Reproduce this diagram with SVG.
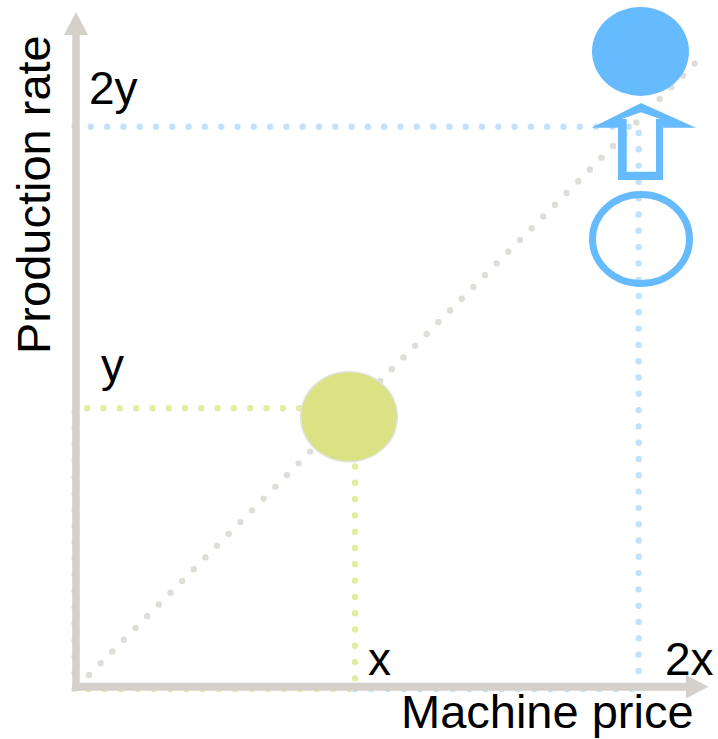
<svg xmlns="http://www.w3.org/2000/svg" width="718" height="739" viewBox="0 0 718 739">
<style>
.dot{fill:none;stroke-linecap:round;stroke-width:6.4;stroke-dasharray:0 16.3}
.g{stroke:#e4eba3}
.b{stroke:#c2e2fb}
.d{stroke:#e0ddd8;stroke-dasharray:0 16.55}
.axis{stroke:#d5d0ca;fill:none}
.head{fill:#d5d0ca}
.lbl{font-family:"Liberation Sans",Arial,sans-serif;font-size:46px;fill:#000}
.ttl{font-family:"Liberation Sans",Arial,sans-serif;font-size:47px;fill:#000}
</style>
<g id="connectors">
<path class="dot d" d="M77.3,686.7 L696,62.3"/>
<path class="dot g" d="M74.5,689 L74.5,408.3 L355,408.3 L355,689 Z"/>
<path class="dot b" d="M74.5,126.7 L638.7,126.7 L638.7,689"/>
<path class="dot b" d="M355,689 L638.7,689"/>
<line class="axis" x1="76" y1="30" x2="76" y2="691" stroke-width="7.5"/>
<polygon class="head" points="64,35 88,35 76,12"/>
<line class="axis" x1="72.3" y1="686.7" x2="690" y2="686.7" stroke-width="8"/>
<polygon class="head" points="686,675 686,698.5 708.5,686.7"/>
</g>
<g id="point-x">
<ellipse cx="349" cy="416.7" rx="48.3" ry="45" fill="#dae283" stroke="#e2e2df" stroke-width="1.6"/>
</g>
<g id="point-2x-old">
<ellipse cx="641" cy="239" rx="48.5" ry="44.5" fill="none" stroke="#66bbff" stroke-width="7"/>
</g>
<g id="up-arrow">
<path fill="#66bbff" fill-rule="evenodd" d="M641,103 L696,127.7 L663,127.7 L663,180 L618,180 L618,127.7 L591.7,127.7 Z M641,112.3 L660,119 L656,119 L656,171.7 L626.7,171.7 L626.7,119 L621.7,119 Z"/>
</g>
<g id="point-2x-new">
<ellipse cx="640.5" cy="51.5" rx="48.5" ry="44.5" fill="#66bbff"/>
</g>
<g id="labels">
<text class="lbl" x="89" y="104">2y</text>
<text class="lbl" x="101" y="381">y</text>
<text class="lbl" x="368" y="675">x</text>
<text class="lbl" x="665" y="675">2x</text>
<text class="ttl" x="401" y="728">Machine price</text>
<text class="ttl" transform="translate(49.5,354) rotate(-90)" x="0" y="0">Production rate</text>
</g>
</svg>
